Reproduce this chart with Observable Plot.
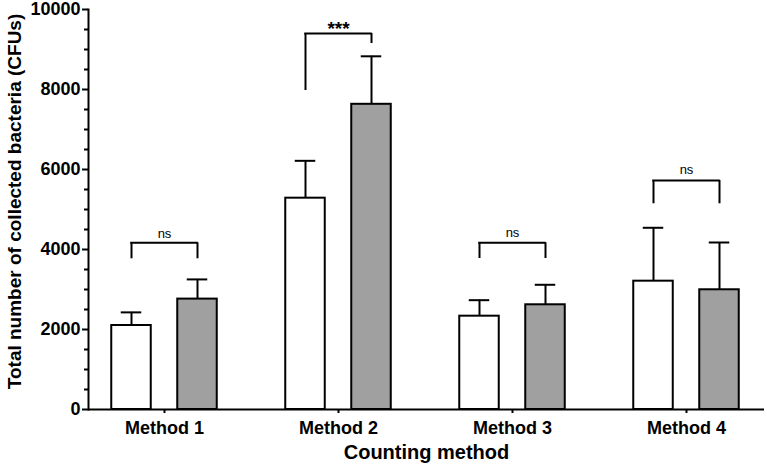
<!DOCTYPE html>
<html>
<head>
<meta charset="utf-8">
<script src="https://cdn.jsdelivr.net/npm/d3@7"></script>
<script src="https://cdn.jsdelivr.net/npm/@observablehq/plot@0.6"></script>
<style>
  html, body { margin: 0; padding: 0; background: #fff; }
  #chart svg { display: block; }
</style>
</head>
<body>
<div id="chart"></div>
<script>
// ---- data ----
const methods = ["Method 1", "Method 2", "Method 3", "Method 4"];
const whiteMean = [2100, 5283, 2333, 3208];
const whiteUpper = [2428, 6217, 2733, 4543];   // top of error bar
const grayMean = [2760, 7630, 2618, 2993];
const grayUpper = [3252, 8830, 3118, 4175];    // top of error bar
const bracketTop = [4168, 9400, 4168, 5725];
const bracketLeftEnd = [3768, 7975, 3775, 5143];
const bracketRightEnd = [3768, 9150, 3775, 5143];
const sigLabels = ["ns", "***", "ns", "ns"];
const sigLabelY = [4395, 9505, 4410, 5995];
const yMajorTicks = [0, 2000, 4000, 6000, 8000, 10000];
const yMinorTicks = d3.range(0, 10001, 500).filter(v => v % 2000 !== 0);
const xTitle = "Counting method";
const yTitle = "Total number of collected bacteria (CFUs)";

// ---- layout constants ----
const W = 767, H = 466;
const xRange = [76, 774];
const half = (xRange[1] - xRange[0]) / methods.length / 2;
const off = 33, barW = 40, capW = 21;
const insL = (dx, w) => half + dx - w / 2;
const insR = (dx, w) => half - dx - w / 2;

const groups = [
  {key: "A", dx: -off, fill: "#ffffff", mean: whiteMean, upper: whiteUpper},
  {key: "B", dx: off, fill: "#a0a0a0", mean: grayMean, upper: grayUpper}
];

const brackets = methods.map((m, i) => ({
  method: m, top: bracketTop[i], left: bracketLeftEnd[i], right: bracketRightEnd[i],
  label: sigLabels[i], ly: sigLabelY[i], stars: sigLabels[i] !== "ns"
}));

const marks = [];
for (const g of groups) {
  const rows = methods.map((m, i) => ({method: m, mean: g.mean[i], upper: g.upper[i]}));
  marks.push(Plot.ruleX(rows, {x: "method", y1: "mean", y2: "upper", dx: g.dx, stroke: "black", strokeWidth: 2}));
  marks.push(Plot.tickY(rows, {x: "method", y: "upper", insetLeft: insL(g.dx, capW), insetRight: insR(g.dx, capW), stroke: "black", strokeWidth: 2}));
  marks.push(Plot.rectY(rows, {x: "method", y1: 0, y2: "mean", insetLeft: insL(g.dx, barW), insetRight: insR(g.dx, barW), fill: g.fill, stroke: "black", strokeWidth: 2}));
}
// significance brackets
marks.push(Plot.tickY(brackets, {x: "method", y: "top", insetLeft: insL(-off, 0) - 1, insetRight: insR(off, 0) - 1, stroke: "black", strokeWidth: 2}));
marks.push(Plot.ruleX(brackets, {x: "method", y1: "left", y2: "top", dx: -off, stroke: "black", strokeWidth: 2}));
marks.push(Plot.ruleX(brackets, {x: "method", y1: "right", y2: "top", dx: off, stroke: "black", strokeWidth: 2}));
marks.push(Plot.text(brackets.filter(d => !d.stars), {x: "method", y: "ly", text: "label", fontSize: 13, fontWeight: "normal", fill: "black", lineAnchor: "middle"}));
marks.push(Plot.text(brackets.filter(d => d.stars), {x: "method", y: "ly", text: "label", fontSize: 19, fontWeight: "bold", fill: "black", lineAnchor: "middle"}));

// axes
marks.push(Plot.axisY({ticks: yMinorTicks, tickSize: 4, tickFormat: () => "", label: null, strokeWidth: 2}));
marks.push(Plot.axisY({ticks: yMajorTicks, tickSize: 6, tickPadding: 2, label: null, strokeWidth: 2, fontSize: 18, fontWeight: "bold", tickFormat: d => String(d)}));
marks.push(Plot.axisX({tickSize: 4, tickPadding: 8, label: null, strokeWidth: 2, fontSize: 18, fontWeight: "bold"}));
marks.push(Plot.ruleY([0], {stroke: "black", strokeWidth: 2}));
marks.push(Plot.frame({anchor: "left", stroke: "black", strokeWidth: 2}));
marks.push(Plot.text([xTitle], {frameAnchor: "bottom", dy: 43, lineAnchor: "middle", textAnchor: "middle", fontSize: 20, fontWeight: "bold", fill: "black"}));
marks.push(Plot.text([yTitle], {frameAnchor: "left", dx: -74, dy: -8, rotate: -90, textAnchor: "middle", lineAnchor: "middle", fontSize: 19, fontWeight: "bold", fill: "black"}));

const chart = Plot.plot({
  width: W,
  height: H,
  marginLeft: 88,
  marginRight: 3,
  marginTop: 9,
  marginBottom: 57,
  style: {fontFamily: "'Liberation Sans', Arial, sans-serif", color: "black", background: "white", overflow: "visible"},
  x: {domain: methods, range: xRange, padding: 0},
  y: {domain: [0, 10000]},
  marks
});
document.getElementById("chart").appendChild(chart);
</script>
</body>
</html>
